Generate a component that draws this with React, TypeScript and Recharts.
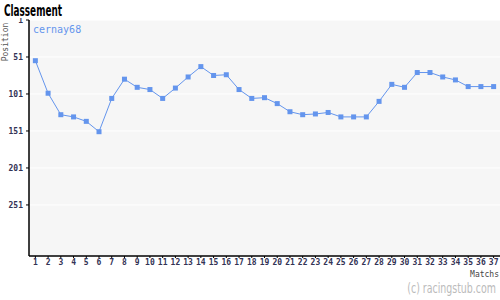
import React from "react";
import { LineChart, Line, XAxis, YAxis, CartesianGrid } from "recharts";

const matches: number[] = [1,2,3,4,5,6,7,8,9,10,11,12,13,14,15,16,17,18,19,20,21,22,23,24,25,26,27,28,29,30,31,32,33,34,35,36,37];
const positions: number[] = [56,100,129,132,138,152,107,81,92,95,107,93,78,64,76,75,95,107,106,114,125,129,128,126,132,132,132,111,88,92,72,72,78,82,91,91,91];
const yTicks: number[] = [1, 51, 101, 151, 201, 251];
const seriesName = "cernay68";

const data = matches.map((m, i) => ({ match: m, pos: positions[i] }));

const mono = "'DejaVu Sans Mono', monospace";
const cond = "'DejaVu Sans Condensed', 'DejaVu Sans', sans-serif";
const tickStyle = { fontSize: 8, fill: "#333355", fontFamily: mono, fontWeight: "bold" as const };

const SquareDot = (props: any) => {
  const { cx, cy } = props;
  if (cx == null || cy == null) return null;
  return <rect x={cx - 2.5} y={cy - 2.5} width={5} height={5} fill="#6495ED" />;
};

export default function App() {
  return (
    <div style={{ position: "absolute", left: 0, top: 0, width: 500, height: 300, background: "#fff" }}>
      <LineChart width={500} height={300} data={data} margin={{ top: 20, right: 0, left: 0, bottom: 0 }}>
        <CartesianGrid horizontal vertical={false} stroke="#ffffff" fill="#f6f6f6" />
        <XAxis
          dataKey="match"
          type="number"
          domain={[0.5, 37.5]}
          ticks={matches}
          interval={0}
          height={44}
          tick={tickStyle}
          tickSize={2}
          tickMargin={1}
          stroke="#000"
          axisLine={{ stroke: "#000", strokeWidth: 1.5 }}
        />
        <YAxis
          type="number"
          reversed
          domain={[1, 320]}
          ticks={yTicks}
          interval={0}
          width={29}
          tick={tickStyle}
          tickSize={3}
          tickMargin={3}
          stroke="#000"
          axisLine={{ stroke: "#000", strokeWidth: 1.5 }}
        />
        <Line
          dataKey="pos"
          stroke="#6495ED"
          strokeWidth={1}
          dot={<SquareDot />}
          activeDot={false}
          isAnimationActive={false}
        />
      </LineChart>
      <svg width={500} height={300} style={{ position: "absolute", left: 0, top: 0, pointerEvents: "none" }}>
        <rect x={0} y={0} width={28} height={18} fill="#ffffff" />
        <text x={4} y={16} fontFamily={cond} fontWeight="bold" fontSize={16} textLength={58} lengthAdjust="spacingAndGlyphs" fill="#000">Classement</text>
        <text x={33} y={33} fontFamily={mono} fontSize={10} fill="#6495ED">{seriesName}</text>
        <text transform="translate(8,42) rotate(-90)" textAnchor="middle" fontFamily={mono} fontSize={8} fill="#555">Position</text>
        <text x={499} y={277} textAnchor="end" fontFamily={mono} fontSize={8} fill="#444">Matchs</text>
        <text transform="translate(496,293) scale(0.75,1)" textAnchor="end" fontFamily={cond} fontSize={14} fill="#bbbbbb">(c) racingstub.com</text>
      </svg>
    </div>
  );
}
